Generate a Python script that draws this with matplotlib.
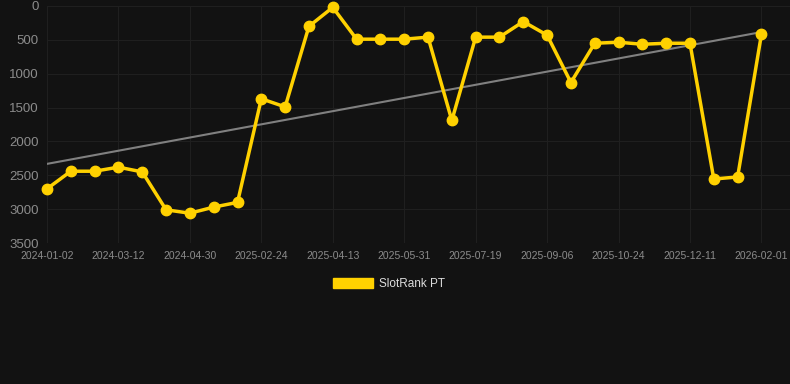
import matplotlib
matplotlib.use("Agg")
import matplotlib.pyplot as plt
from matplotlib.patches import Patch
import numpy as np

plt.rcParams['font.family'] = ['Liberation Sans', 'DejaVu Sans']

# dates (only every 3rd one is shown as a tick label)
dates = ['2024-01-02', '2024-01-25', '2024-02-17', '2024-03-12', '2024-03-28', '2024-04-13',
         '2024-04-30', '2024-06-15', '2024-11-10', '2025-02-24', '2025-03-12', '2025-03-28',
         '2025-04-13', '2025-04-29', '2025-05-15', '2025-05-31', '2025-06-16', '2025-07-02',
         '2025-07-19', '2025-08-04', '2025-08-20', '2025-09-06', '2025-09-22', '2025-10-08',
         '2025-10-24', '2025-11-09', '2025-11-25', '2025-12-11', '2025-12-27', '2026-01-15',
         '2026-02-01']
rank = [2700, 2440, 2440, 2380, 2450, 3010, 3060, 2970, 2900, 1370, 1490,
        300, 20, 490, 490, 490, 460, 1690, 460, 460, 230,
        430, 1130, 550, 535, 565, 550, 550, 2555, 2525, 420]

bg = '#121212'
yellow = '#FFD100'

x = np.arange(len(dates))
k, b = np.polyfit(x, rank, 1)

fig = plt.figure(figsize=(7.9, 3.84), dpi=100, facecolor=bg)
ax = fig.add_axes([47 / 790, 141 / 384, 743 / 790, 237 / 384])
ax.set_facecolor(bg)

ax.plot(x, k * x + b, color='#808080', lw=1.5, zorder=2)
ax.plot(x, rank, color=yellow, lw=2.5, marker='o', ms=7.5, zorder=3, clip_on=False)

ax.set_ylim(3500, 0)
ax.set_xlim(0, 31.2)
ax.set_yticks(range(0, 3501, 500))
ax.set_xticks(x[::3])
ax.set_xticklabels(dates[::3])
ax.tick_params(axis='y', colors='#8c8c8c', labelsize=9.5, length=0, pad=6)
ax.tick_params(axis='x', colors='#8c8c8c', labelsize=7.5, length=0, pad=6)
ax.grid(True, color='#1f1f1f', lw=0.8)
for s in ax.spines.values():
    s.set_visible(False)

fig.legend(handles=[Patch(facecolor=yellow, edgecolor=yellow)], labels=['SlotRank PT'],
           loc='center', bbox_to_anchor=(0.4924, 1 - 284 / 384), frameon=False,
           labelcolor='#dddddd', fontsize=8.5, handlelength=3.4, handleheight=0.95,
           handletextpad=0.5)

fig.savefig('out.png', dpi=100, facecolor=bg)
